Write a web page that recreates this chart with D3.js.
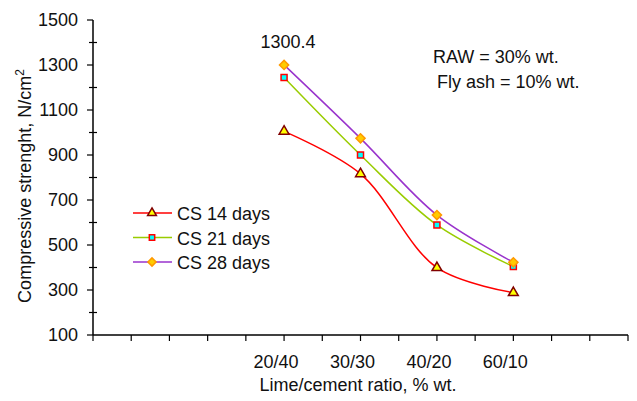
<!DOCTYPE html>
<html>
<head>
<meta charset="utf-8">
<script src="https://cdn.jsdelivr.net/npm/d3@7"></script>
<style>
  body { margin: 0; background: #fff; }
  svg { font-family: "Liberation Sans", Arial, sans-serif; }
</style>
</head>
<body>
<svg id="chart" width="637" height="401"></svg>
<script>
// data
const ratios = ['20/40', '30/30', '40/20', '60/10'];
const ratioSlots = [5, 7, 9, 11]; // category position on the 14-slot axis
const cs14 = [1005, 816, 399, 288];
const cs21 = [1244, 900, 589, 404];
const cs28 = [1300.4, 974, 633, 423];
const yMajor = [100, 300, 500, 700, 900, 1100, 1300, 1500];
const yMinor = [200, 400, 600, 800, 1000, 1200, 1400];

const series = [
  { name: 'CS 14 days', values: cs14, line: '#ff0000', symbol: d3.symbolTriangle, size: 42, rot: 0, fill: '#ffff00', stroke: '#800000' },
  { name: 'CS 21 days', values: cs21, line: '#99cc00', symbol: d3.symbolSquare, size: 36, rot: 0, fill: '#00ffff', stroke: '#ff0000' },
  { name: 'CS 28 days', values: cs28, line: '#9933cc', symbol: d3.symbolSquare, size: 42, rot: 45, fill: '#ffcc00', stroke: '#ff9900' }
];

const svg = d3.select('svg#chart');
const plotL = 93, plotR = 628, plotT = 20, plotB = 335;

const x = d3.scaleLinear().domain([0, 14]).range([plotL, plotR]);
const y = d3.scaleLinear().domain([100, 1500]).range([plotB, plotT]);

// y axis: major ticks outside, minor ticks crossing
svg.append('line')
  .attr('x1', plotL).attr('x2', plotL).attr('y1', plotT).attr('y2', plotB)
  .attr('stroke', '#000').attr('stroke-width', 1.5);
svg.append('g')
  .selectAll('line')
  .data(yMajor)
  .enter()
  .append('line')
  .attr('x1', plotL - 6).attr('x2', plotL)
  .attr('y1', d => y(d)).attr('y2', d => y(d))
  .attr('stroke', '#000').attr('stroke-width', 1.2);
svg.append('g')
  .selectAll('line')
  .data(yMinor)
  .enter()
  .append('line')
  .attr('x1', plotL - 4).attr('x2', plotL + 4)
  .attr('y1', d => y(d)).attr('y2', d => y(d))
  .attr('stroke', '#000').attr('stroke-width', 1.2);
svg.append('g')
  .selectAll('text')
  .data(yMajor)
  .enter()
  .append('text')
  .text(d => d)
  .attr('x', plotL - 15)
  .attr('y', d => y(d) + 6)
  .attr('text-anchor', 'end')
  .attr('font-size', 18)
  .attr('fill', '#111');

// x axis
svg.append('line')
  .attr('x1', plotL).attr('x2', plotR).attr('y1', plotB).attr('y2', plotB)
  .attr('stroke', '#000').attr('stroke-width', 1.5);
svg.append('g')
  .selectAll('line')
  .data(d3.range(0, 15))
  .enter()
  .append('line')
  .attr('x1', d => x(d)).attr('x2', d => x(d))
  .attr('y1', plotB).attr('y2', plotB + 6)
  .attr('stroke', '#000').attr('stroke-width', 1.2);
svg.append('g')
  .selectAll('text')
  .data(ratios)
  .enter()
  .append('text')
  .text(d => d)
  .attr('x', (d, i) => x(ratioSlots[i]) - 8)
  .attr('y', 368)
  .attr('text-anchor', 'middle')
  .attr('font-size', 18)
  .attr('fill', '#111');

// axis titles
svg.append('text')
  .text('Lime/cement ratio, % wt.')
  .attr('x', 358).attr('y', 391)
  .attr('text-anchor', 'middle')
  .attr('font-size', 18)
  .attr('fill', '#111');
const yTitle = svg.append('text')
  .attr('transform', 'translate(31,186) rotate(-90)')
  .attr('text-anchor', 'middle')
  .attr('font-size', 18)
  .attr('fill', '#111');
yTitle.append('tspan').text('Compressive strenght, N/cm');
yTitle.append('tspan').text('2').attr('font-size', 12).attr('dy', -7);

// lines + markers
const line = d3.line()
  .x((d, i) => x(ratioSlots[i]))
  .y(d => y(d))
  .curve(d3.curveCatmullRom.alpha(0.5));

series.forEach(s => {
  svg.append('path')
    .attr('d', line(s.values))
    .attr('fill', 'none')
    .attr('stroke', s.line)
    .attr('stroke-width', 1.5);
  svg.append('g')
    .selectAll('path')
    .data(s.values)
    .enter()
    .append('path')
    .attr('d', d3.symbol().type(s.symbol).size(s.size))
    .attr('transform', (d, i) => `translate(${x(ratioSlots[i])},${y(d)}) rotate(${s.rot})`)
    .attr('fill', s.fill)
    .attr('stroke', s.stroke)
    .attr('stroke-width', 1.5);
});

// value label on the top point
svg.append('text')
  .text(cs28[0])
  .attr('x', x(ratioSlots[0]) + 4)
  .attr('y', 48)
  .attr('text-anchor', 'middle')
  .attr('font-size', 18)
  .attr('fill', '#111');

// notes
svg.append('text').text('RAW = 30% wt.')
  .attr('x', 433).attr('y', 63).attr('font-size', 18).attr('fill', '#111');
svg.append('text').text('Fly ash = 10% wt.')
  .attr('x', 437).attr('y', 88).attr('font-size', 18).attr('fill', '#111');

// legend
const legend = svg.append('g');
series.forEach((s, i) => {
  const cy = 213 + i * 24.5;
  legend.append('line')
    .attr('x1', 133).attr('x2', 172).attr('y1', cy).attr('y2', cy)
    .attr('stroke', s.line).attr('stroke-width', 1.5);
  legend.append('path')
    .attr('d', d3.symbol().type(s.symbol).size(s.size * 0.8))
    .attr('transform', `translate(152,${cy}) rotate(${s.rot})`)
    .attr('fill', s.fill)
    .attr('stroke', s.stroke)
    .attr('stroke-width', 1.5);
  legend.append('text')
    .text(s.name)
    .attr('x', 177).attr('y', cy + 7)
    .attr('font-size', 18)
    .attr('fill', '#111');
});
</script>
</body>
</html>
